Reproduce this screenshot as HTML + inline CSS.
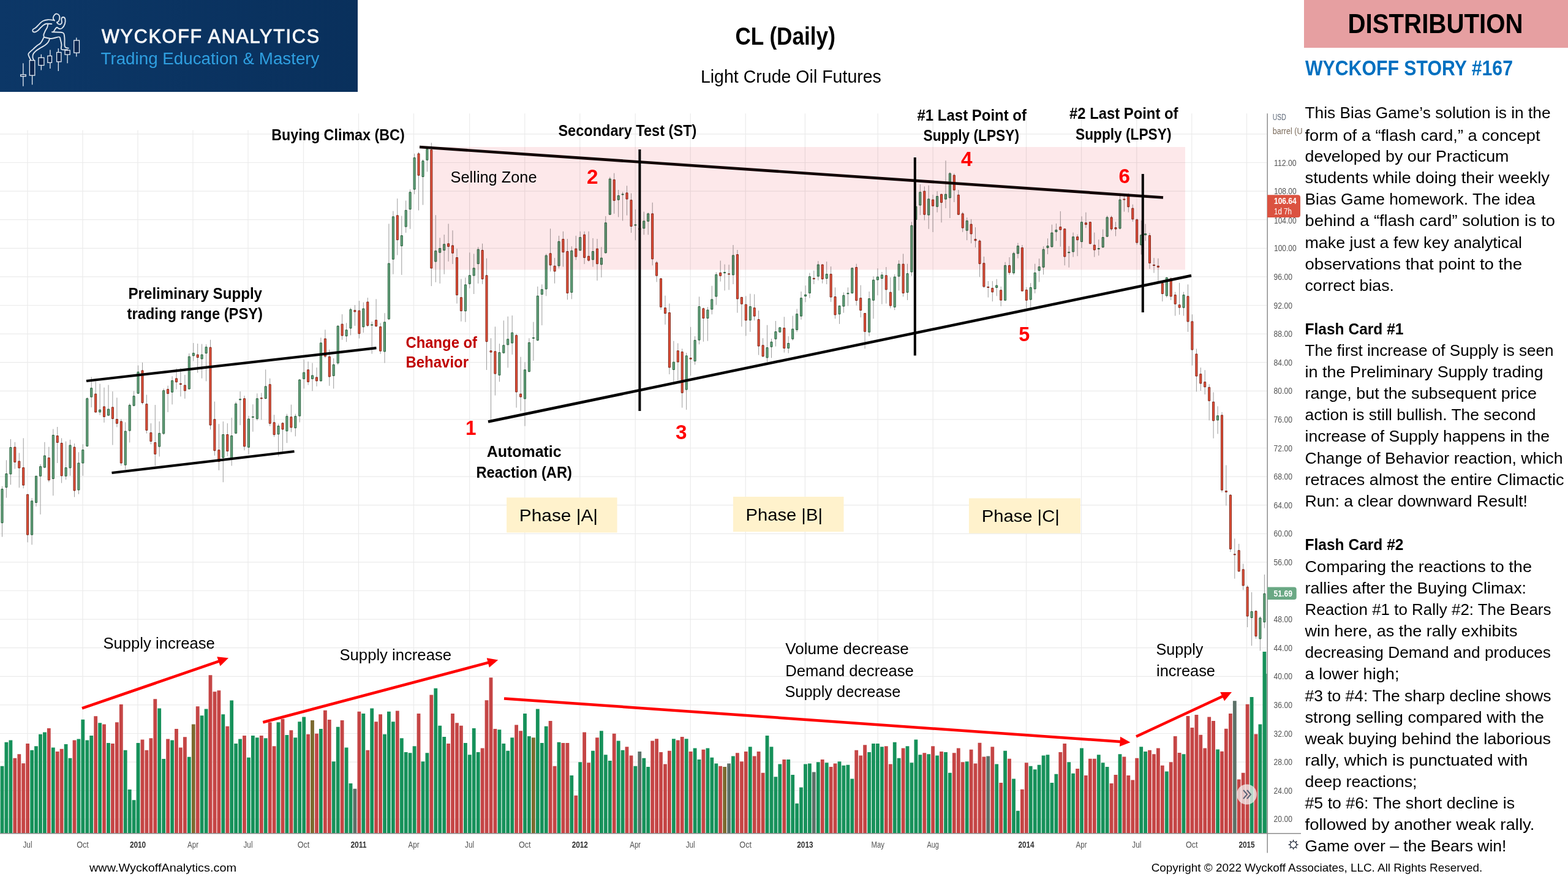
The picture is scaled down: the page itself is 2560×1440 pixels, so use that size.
<!DOCTYPE html>
<html><head><meta charset="utf-8"><title>CL (Daily) - Wyckoff Story #167</title>
<style>html,body{margin:0;padding:0;background:#fff;width:2560px;height:1440px;overflow:hidden}svg{display:block}</style>
</head><body>
<svg width="2560" height="1440" viewBox="0 0 2560 1440">
<rect x="0" y="0" width="2560" height="1440" fill="#fff"/>
<path d="M45 212.5V1360M135 212.5V1360M225 212.5V1360M315 212.5V1360M405 212.5V1360M495.5 212.5V1360M585.5 185.3V1360M675.5 185.3V1360M766.6 185.3V1360M856.8 185.3V1360M946.8 185.3V1360M1037.2 185.3V1360M1127.2 185.3V1360M1217.2 185.3V1360M1314.4 185.3V1360M1433.2 185.3V1360M1523.2 185.3V1360M1675.5 185.3V1360M1765.5 185.3V1360M1855.8 185.3V1360M1945.8 185.3V1360M2035.5 185.3V1360M0 218.9H2068M0 265.5H2068M0 312.1H2068M0 358.7H2068M0 405.3H2068M0 451.9H2068M0 498.5H2068M0 545.1H2068M0 591.7H2068M0 638.3H2068M0 684.9H2068M0 731.5H2068M0 778.1H2068M0 824.7H2068M0 871.3H2068M0 917.9H2068M0 964.5H2068M0 1011.1H2068M0 1057.7H2068M0 1104.3H2068M0 1150.9H2068M0 1197.5H2068M0 1244.1H2068M0 1290.7H2068M0 1337.3H2068" stroke="#ebebeb" stroke-width="1.2" fill="none"/>
<path d="M0.6 1250.8h5.8V1360h-5.8zM7.5 1211.8h5.8V1360h-5.8zM14.5 1208.5h5.8V1360h-5.8zM49.2 1224.8h5.8V1360h-5.8zM56.1 1218.2h5.8V1360h-5.8zM63.1 1198.8h5.8V1360h-5.8zM70 1195.5h5.8V1360h-5.8zM83.9 1220.5h5.8V1360h-5.8zM104.7 1215h5.8V1360h-5.8zM111.6 1237.8h5.8V1360h-5.8zM125.5 1206.5h5.8V1360h-5.8zM132.4 1174.8h5.8V1360h-5.8zM139.4 1208.5h5.8V1360h-5.8zM146.3 1201h5.8V1360h-5.8zM160.2 1180.2h5.8V1360h-5.8zM174.1 1213h5.8V1360h-5.8zM201.8 1224.8h5.8V1360h-5.8zM208.8 1289h5.8V1360h-5.8zM215.7 1306.2h5.8V1360h-5.8zM222.6 1213h5.8V1360h-5.8zM257.3 1156.5h5.8V1360h-5.8zM264.3 1239h5.8V1360h-5.8zM278.2 1208.5h5.8V1360h-5.8zM305.9 1235.8h5.8V1360h-5.8zM326.7 1168.2h5.8V1360h-5.8zM333.7 1157.5h5.8V1360h-5.8zM361.4 1166.2h5.8V1360h-5.8zM375.3 1143.5h5.8V1360h-5.8zM382.2 1214h5.8V1360h-5.8zM389.2 1206.5h5.8V1360h-5.8zM403.1 1236.8h5.8V1360h-5.8zM410 1201h5.8V1360h-5.8zM416.9 1204.2h5.8V1360h-5.8zM430.8 1205.2h5.8V1360h-5.8zM451.6 1179.2h5.8V1360h-5.8zM465.5 1200h5.8V1360h-5.8zM479.4 1204.2h5.8V1360h-5.8zM486.3 1178.2h5.8V1360h-5.8zM493.3 1170.5h5.8V1360h-5.8zM521 1190h5.8V1360h-5.8zM541.8 1243.2h5.8V1360h-5.8zM548.8 1186.8h5.8V1360h-5.8zM562.7 1220.5h5.8V1360h-5.8zM569.6 1279h5.8V1360h-5.8zM590.4 1165h5.8V1360h-5.8zM604.3 1156.5h5.8V1360h-5.8zM625.1 1198.8h5.8V1360h-5.8zM632 1161.8h5.8V1360h-5.8zM639 1178.2h5.8V1360h-5.8zM652.9 1205.2h5.8V1360h-5.8zM659.8 1228h5.8V1360h-5.8zM666.7 1229.2h5.8V1360h-5.8zM673.7 1218.2h5.8V1360h-5.8zM687.6 1243.2h5.8V1360h-5.8zM694.5 1229.2h5.8V1360h-5.8zM708.4 1123.8h5.8V1360h-5.8zM715.3 1184.8h5.8V1360h-5.8zM722.3 1203h5.8V1360h-5.8zM757 1213h5.8V1360h-5.8zM763.9 1232.2h5.8V1360h-5.8zM770.8 1189h5.8V1360h-5.8zM777.8 1228h5.8V1360h-5.8zM812.5 1191.2h5.8V1360h-5.8zM819.4 1214h5.8V1360h-5.8zM826.3 1225.8h5.8V1360h-5.8zM833.3 1204.2h5.8V1360h-5.8zM854.1 1165h5.8V1360h-5.8zM861 1202h5.8V1360h-5.8zM874.9 1157.5h5.8V1360h-5.8zM881.9 1213h5.8V1360h-5.8zM888.8 1185.8h5.8V1360h-5.8zM909.6 1211.8h5.8V1360h-5.8zM930.4 1266h5.8V1360h-5.8zM944.3 1244.2h5.8V1360h-5.8zM965.1 1225.8h5.8V1360h-5.8zM979 1193.2h5.8V1360h-5.8zM985.9 1232.2h5.8V1360h-5.8zM992.9 1242h5.8V1360h-5.8zM1006.8 1209.5h5.8V1360h-5.8zM1013.7 1224.8h5.8V1360h-5.8zM1034.5 1250.8h5.8V1360h-5.8zM1048.4 1237.8h5.8V1360h-5.8zM1055.3 1252h5.8V1360h-5.8zM1097 1206.2h5.8V1360h-5.8zM1117.8 1206.2h5.8V1360h-5.8zM1131.7 1221.5h5.8V1360h-5.8zM1138.6 1240h5.8V1360h-5.8zM1152.5 1221.5h5.8V1360h-5.8zM1159.4 1236.8h5.8V1360h-5.8zM1166.4 1246.5h5.8V1360h-5.8zM1194.1 1234.5h5.8V1360h-5.8zM1221.9 1219.2h5.8V1360h-5.8zM1249.6 1201h5.8V1360h-5.8zM1256.6 1219.2h5.8V1360h-5.8zM1263.5 1268.2h5.8V1360h-5.8zM1270.4 1247.5h5.8V1360h-5.8zM1284.3 1240h5.8V1360h-5.8zM1291.3 1265h5.8V1360h-5.8zM1298.2 1311.8h5.8V1360h-5.8zM1305.1 1285.5h5.8V1360h-5.8zM1312.1 1247.5h5.8V1360h-5.8zM1319 1246.5h5.8V1360h-5.8zM1332.9 1244.2h5.8V1360h-5.8zM1346.8 1245.2h5.8V1360h-5.8zM1367.6 1243.2h5.8V1360h-5.8zM1374.5 1249.8h5.8V1360h-5.8zM1381.5 1248.8h5.8V1360h-5.8zM1388.4 1271.5h5.8V1360h-5.8zM1416.2 1228h5.8V1360h-5.8zM1423.1 1214h5.8V1360h-5.8zM1430 1214h5.8V1360h-5.8zM1437 1219.2h5.8V1360h-5.8zM1457.8 1211.8h5.8V1360h-5.8zM1464.7 1237.8h5.8V1360h-5.8zM1478.6 1218.2h5.8V1360h-5.8zM1485.5 1245.2h5.8V1360h-5.8zM1492.5 1207.5h5.8V1360h-5.8zM1499.4 1232.2h5.8V1360h-5.8zM1513.3 1231.2h5.8V1360h-5.8zM1527.2 1233.5h5.8V1360h-5.8zM1541.1 1228h5.8V1360h-5.8zM1548 1261.8h5.8V1360h-5.8zM1575.8 1243.2h5.8V1360h-5.8zM1624.3 1247.5h5.8V1360h-5.8zM1638.2 1225.8h5.8V1360h-5.8zM1652.1 1271.5h5.8V1360h-5.8zM1659 1323.8h5.8V1360h-5.8zM1679.8 1250.8h5.8V1360h-5.8zM1686.8 1256.2h5.8V1360h-5.8zM1693.7 1248.8h5.8V1360h-5.8zM1700.7 1233.5h5.8V1360h-5.8zM1707.6 1232.2h5.8V1360h-5.8zM1714.5 1278h5.8V1360h-5.8zM1721.5 1263.8h5.8V1360h-5.8zM1742.3 1244.2h5.8V1360h-5.8zM1749.2 1262.8h5.8V1360h-5.8zM1763.1 1221.5h5.8V1360h-5.8zM1790.9 1232.2h5.8V1360h-5.8zM1797.8 1245.2h5.8V1360h-5.8zM1804.7 1252h5.8V1360h-5.8zM1825.6 1231.2h5.8V1360h-5.8zM1860.3 1219.2h5.8V1360h-5.8zM1867.2 1227h5.8V1360h-5.8zM1901.9 1259.5h5.8V1360h-5.8zM1929.6 1231.2h5.8V1360h-5.8zM1985.2 1223.4h5.8V1360h-5.8zM2040.7 1137.9h5.8V1360h-5.8zM2054.5 1182.4h5.8V1360h-5.8zM2061.5 1064h5.8V1360h-5.8z" fill="#16915a"/>
<path d="M21.4 1237.8h5.8V1360h-5.8zM28.4 1231.2h5.8V1360h-5.8zM35.3 1246.2h5.8V1360h-5.8zM42.2 1214h5.8V1360h-5.8zM76.9 1189h5.8V1360h-5.8zM90.8 1227h5.8V1360h-5.8zM97.7 1222.8h5.8V1360h-5.8zM118.6 1208.5h5.8V1360h-5.8zM153.3 1169.2h5.8V1360h-5.8zM167.1 1182.5h5.8V1360h-5.8zM181 1214h5.8V1360h-5.8zM188 1179.2h5.8V1360h-5.8zM194.9 1150h5.8V1360h-5.8zM229.6 1207.5h5.8V1360h-5.8zM236.5 1224.8h5.8V1360h-5.8zM243.5 1205.2h5.8V1360h-5.8zM250.4 1141.2h5.8V1360h-5.8zM271.2 1206.5h5.8V1360h-5.8zM285.1 1190h5.8V1360h-5.8zM292 1220.5h5.8V1360h-5.8zM299 1203.2h5.8V1360h-5.8zM319.8 1153.2h5.8V1360h-5.8zM340.6 1102.2h5.8V1360h-5.8zM347.6 1129.2h5.8V1360h-5.8zM354.5 1127.2h5.8V1360h-5.8zM368.4 1185.8h5.8V1360h-5.8zM396.1 1201h5.8V1360h-5.8zM423.9 1201h5.8V1360h-5.8zM437.8 1179.2h5.8V1360h-5.8zM444.7 1218.2h5.8V1360h-5.8zM458.6 1173.8h5.8V1360h-5.8zM472.5 1192.2h5.8V1360h-5.8zM500.2 1198.8h5.8V1360h-5.8zM514.1 1197.8h5.8V1360h-5.8zM528 1159.8h5.8V1360h-5.8zM534.9 1175h5.8V1360h-5.8zM555.7 1176h5.8V1360h-5.8zM583.5 1161.8h5.8V1360h-5.8zM597.4 1224.8h5.8V1360h-5.8zM611.2 1178.2h5.8V1360h-5.8zM618.2 1166.2h5.8V1360h-5.8zM645.9 1160.5h5.8V1360h-5.8zM680.6 1165h5.8V1360h-5.8zM701.4 1134.5h5.8V1360h-5.8zM729.2 1214h5.8V1360h-5.8zM736.1 1165h5.8V1360h-5.8zM743.1 1180.2h5.8V1360h-5.8zM750 1184.8h5.8V1360h-5.8zM784.7 1221.5h5.8V1360h-5.8zM791.6 1143.2h5.8V1360h-5.8zM798.6 1106.2h5.8V1360h-5.8zM805.5 1190h5.8V1360h-5.8zM840.2 1183.5h5.8V1360h-5.8zM847.2 1193.2h5.8V1360h-5.8zM895.7 1177h5.8V1360h-5.8zM902.7 1250.8h5.8V1360h-5.8zM916.5 1213h5.8V1360h-5.8zM923.5 1213h5.8V1360h-5.8zM937.4 1298.8h5.8V1360h-5.8zM951.2 1195.5h5.8V1360h-5.8zM958.2 1245.2h5.8V1360h-5.8zM972.1 1204.2h5.8V1360h-5.8zM999.8 1197.8h5.8V1360h-5.8zM1020.6 1219.2h5.8V1360h-5.8zM1027.6 1233.5h5.8V1360h-5.8zM1062.3 1209.5h5.8V1360h-5.8zM1069.2 1206.2h5.8V1360h-5.8zM1076.1 1228h5.8V1360h-5.8zM1083.1 1247.5h5.8V1360h-5.8zM1090 1225.8h5.8V1360h-5.8zM1103.9 1208.5h5.8V1360h-5.8zM1110.8 1203h5.8V1360h-5.8zM1124.7 1227h5.8V1360h-5.8zM1145.5 1223.8h5.8V1360h-5.8zM1173.3 1250.8h5.8V1360h-5.8zM1201 1229.2h5.8V1360h-5.8zM1208 1243.2h5.8V1360h-5.8zM1214.9 1227h5.8V1360h-5.8zM1228.8 1234.5h5.8V1360h-5.8zM1235.7 1227h5.8V1360h-5.8zM1242.7 1261.8h5.8V1360h-5.8zM1277.4 1240h5.8V1360h-5.8zM1339.8 1240h5.8V1360h-5.8zM1353.7 1252h5.8V1360h-5.8zM1360.6 1246.5h5.8V1360h-5.8zM1395.3 1224.8h5.8V1360h-5.8zM1402.3 1233.5h5.8V1360h-5.8zM1409.2 1216.2h5.8V1360h-5.8zM1443.9 1218.2h5.8V1360h-5.8zM1450.9 1247.5h5.8V1360h-5.8zM1471.7 1221.5h5.8V1360h-5.8zM1506.4 1229.2h5.8V1360h-5.8zM1520.2 1218.2h5.8V1360h-5.8zM1534.1 1227h5.8V1360h-5.8zM1554.9 1229.2h5.8V1360h-5.8zM1561.9 1221.5h5.8V1360h-5.8zM1568.8 1244.2h5.8V1360h-5.8zM1582.7 1223.8h5.8V1360h-5.8zM1589.6 1246.5h5.8V1360h-5.8zM1596.6 1212.8h5.8V1360h-5.8zM1603.5 1235.5h5.8V1360h-5.8zM1617.4 1219.2h5.8V1360h-5.8zM1631.3 1278h5.8V1360h-5.8zM1645.1 1238.8h5.8V1360h-5.8zM1666 1288.8h5.8V1360h-5.8zM1672.9 1245.2h5.8V1360h-5.8zM1728.4 1228h5.8V1360h-5.8zM1735.3 1214h5.8V1360h-5.8zM1756.2 1255h5.8V1360h-5.8zM1770 1266h5.8V1360h-5.8zM1777 1238.8h5.8V1360h-5.8zM1783.9 1238.8h5.8V1360h-5.8zM1811.7 1279h5.8V1360h-5.8zM1818.6 1265h5.8V1360h-5.8zM1832.5 1235.5h5.8V1360h-5.8zM1839.4 1266h5.8V1360h-5.8zM1846.4 1273.5h5.8V1360h-5.8zM1853.3 1237.8h5.8V1360h-5.8zM1874.1 1224.8h5.8V1360h-5.8zM1881.1 1231.2h5.8V1360h-5.8zM1888 1221.5h5.8V1360h-5.8zM1894.9 1249.8h5.8V1360h-5.8zM1908.8 1244.2h5.8V1360h-5.8zM1915.8 1202h5.8V1360h-5.8zM1922.7 1228.9h5.8V1360h-5.8zM1936.6 1169h5.8V1360h-5.8zM1943.5 1187.9h5.8V1360h-5.8zM1950.5 1167h5.8V1360h-5.8zM1957.4 1199.7h5.8V1360h-5.8zM1964.3 1221.5h5.8V1360h-5.8zM1971.3 1170.4h5.8V1360h-5.8zM1978.2 1177h5.8V1360h-5.8zM1992.1 1226.7h5.8V1360h-5.8zM1999 1189.8h5.8V1360h-5.8zM2006 1165h5.8V1360h-5.8zM2019.8 1272.4h5.8V1360h-5.8zM2026.8 1261.7h5.8V1360h-5.8zM2033.7 1149.8h5.8V1360h-5.8zM2047.6 1198.6h5.8V1360h-5.8z" fill="#c54545"/>
<path d="M312.9 1182.5h5.8V1360h-5.8zM507.1 1176h5.8V1360h-5.8zM868 1204.2h5.8V1360h-5.8zM1180.2 1252h5.8V1360h-5.8z" fill="#7b6a2f"/>
<path d="M576.5 1287.8h5.8V1360h-5.8zM1041.4 1227h5.8V1360h-5.8zM1187.2 1246.5h5.8V1360h-5.8zM1325.9 1260.5h5.8V1360h-5.8zM1610.4 1234.5h5.8V1360h-5.8zM2012.9 1144.3h5.8V1360h-5.8z" fill="#5c7168"/>
<rect x="2067.3" y="1100" width="1.2" height="260" fill="#16915a"/>
<path d="M3.5 793.8V876.5M10.4 751.3V812.7M17.4 717V791.4M24.3 721.8V765.5M31.3 739.5V796.2M38.2 715.4V797.3M45.1 806.8V885.4M52.1 813.2V889.4M59 776.8V826.9M66 757.9V839.9M72.9 721.8V764.3M79.8 729.6V787.2M86.8 700.5V809.2M93.7 697V756M100.6 715.4V788.6M107.6 720.6V783.2M114.5 717.8V776.8M121.5 724.1V811.5M128.4 738.3V806.8M135.3 725.3V776.8M142.3 648.6V729.6M149.2 615.5V665.1M156.2 622.6V673.8M163.1 626.6V677.6M170 632.7V689.9M177 628.5V679.3M183.9 639.1V726.5M190.9 649.3V697.4M197.8 684V760.3M204.7 689.4V766.6M211.7 658.7V722.5M218.6 638.4V663.4M225.5 596.6V643.1M232.5 591.9V660.4M239.4 644.5V707.6M246.4 691.1V725.3M253.3 661.1V760.7M260.2 688V745.4M267.2 634.4V710M274.1 629.7V672.9M281.1 614.3V660.4M288 601.3V635.6M294.9 601.3V647.4M301.9 612V650.9M308.8 577V636M315.8 560V589.5M322.7 561V608.6M329.6 561.6V617.8M336.6 562.3V622.4M343.5 554.8V701.4M350.4 655.6V743.8M357.4 692.2V767.8M364.3 688.1V787.3M371.3 691.1V744.9M378.2 681.9V760.5M385.1 656V708.3M392.1 639.1V694.1M399 646V735.3M406 678.9V741.7M412.9 660.2V704.8M419.8 642.3V686.5M426.8 641.4V685.4M433.7 603.3V651.7M440.7 617.8V695.7M447.6 677.3V713.3M454.5 691.8V744.9M461.5 689.5V736.9M468.4 675.7V723.2M475.4 660.6V705.5M482.3 675.7V712.4M489.2 618.9V689.5M496.2 587.3V634.5M503.1 590.3V628.5M510 592.6V638.4M517 600.1V630.8M523.9 551.3V623M530.9 538.3V584.6M537.8 570.8V629.9M544.7 585V634.5M551.7 530.7V595.6M558.6 513.1V554.8M565.6 527.3V558.2M572.5 502.5V547.4M579.4 498V531.9M586.4 491.1V552.5M593.3 493.6V543.3M600.3 486V533.7M607.2 525V577.7M614.1 488.3V533.7M621.1 527.3V577.7M628 511.2V592.6M634.9 365.4V522.7M641.9 344.6V447.7M648.8 324.2V416.5M655.8 352.5V448.8M662.7 327.5V380M669.6 309.2V373.8M676.6 250.8V317.1M683.5 248.3V343.5M690.5 260.2V334.6M697.4 242.5V280.4M704.3 233.1V467.1M711.3 351.2V460.8M718.2 388.3V462.9M725.2 383.1V447.7M732.1 365.4V426.9M739 376.2V431M746 406V495.6M752.9 455.4V524.8M759.9 453.3V525.8M766.8 412.3V470.6M773.7 414.4V480M780.7 403.3V462.9M787.6 397.7V463.8M794.5 421.8V604M801.5 552.2V685.6M808.4 533.3V645.6M815.4 561.1V623.3M822.3 523.3V577.3M829.2 516.7V600.4M836.2 515.1V578.9M843.1 544.9V665.6M850.1 582.7V671.1M857 591.1V695.6M863.9 552.2V607.8M870.9 525.6V588.9M877.8 467.8V556.7M884.8 464.4V531.1M891.7 414.4V483.3M898.6 373.3V443.3M905.6 421.1V462.7M912.5 384.9V438.2M919.4 377.8V435.6M926.4 390V489.3M933.3 402.2V488.4M940.3 384.9V424.4M947.2 377.8V409.3M954.1 377.8V431.1M961.1 377.8V427.1M968 388.9V435.6M975 390V458.2M981.9 403.3V452.9M988.8 352.9V413.8M995.8 288.9V351.1M1002.7 282.7V348.9M1009.7 310V354.4M1016.6 313.3V360.4M1023.5 303.3V351.6M1030.5 315.6V380M1037.4 341.8V392.2M1044.3 368.9V377.8M1051.3 345.6V383.3M1058.2 347.1V383.3M1065.2 330.7V433.3M1072.1 426.2V460.4M1079 453.8V505.6M1086 482.7V530M1092.9 495.6V611.1M1099.9 556.7V623.3M1106.8 560.4V621.1M1113.7 569.3V665.6M1120.7 576V668.9M1127.6 533.8V613.3M1134.6 548.9V595.6M1141.5 484.4V562.2M1148.4 502.2V557.8M1155.4 501.1V556.7M1162.3 466.7V513.3M1169.3 444.4V497.8M1176.2 425.6V459.6M1183.1 431.6V474.4M1190.1 432.2V473.3M1197 400V464M1203.9 408V510.7M1210.9 484.9V533.3M1217.8 483.3V548.4M1224.8 479.6V541.8M1231.7 480.4V523.3M1238.6 507.1V579.6M1245.6 552.2V583.3M1252.5 530.7V591.1M1259.5 552.9V584.4M1266.4 524V565.6M1273.3 533.8V543.3M1280.3 517.3V575.6M1287.2 548.9V576.7M1294.2 515.6V556M1301.1 504.4V542.2M1308 476V521.8M1315 466.2V493.3M1321.9 445.6V486.7M1328.8 441.8V464M1335.8 426.2V457.8M1342.7 431.6V462.7M1349.7 427.1V464M1356.6 435.1V492.9M1363.5 469.3V520.4M1370.5 498.9V528.9M1377.4 477.3V510.7M1384.4 469.3V499.6M1391.3 436.7V479.6M1398.2 430.7V498.9M1405.2 465.6V518.2M1412.1 511.1V569.3M1419.1 476V548.9M1426 451.1V520.4M1432.9 438.2V482.2M1439.9 444V496.7M1446.8 436V495.6M1453.8 452.9V503.3M1460.7 447.8V506.2M1467.6 424.9V474.4M1474.6 414.4V484.4M1481.5 430.7V490M1488.4 362.2V450.7M1495.4 328.9V373.3M1502.3 301.1V351.1M1509.3 304.4V359.6M1516.2 302.7V373.8M1523.1 317.8V378.9M1530.1 312.2V346.7M1537 316.7V363.3M1544 262.2V340M1550.9 281.1V356M1557.8 283.3V330M1564.8 310V351.1M1571.7 346.2V378.9M1578.7 355.1V392.2M1585.6 357.8V397.3M1592.5 371.1V404M1599.5 391.1V452.2M1606.4 418.9V470M1613.3 458.9V485.6M1620.3 458.9V492.2M1627.2 455.6V483.3M1634.2 467.8V500M1641.1 427.8V491.1M1648 420V448.9M1655 411.1V448.9M1661.9 396.7V421.8M1668.9 400V475.6M1675.8 468.9V503.3M1682.7 462.2V502.2M1689.7 430.7V478.9M1696.6 422.2V460.4M1703.6 402.2V448.4M1710.5 389.3V415.1M1717.4 366.7V404M1724.4 364.9V393.3M1731.3 344.9V402.7M1738.2 372.9V433.3M1745.2 401.8V436.7M1752.1 379.6V419.6M1759.1 382.7V418.2M1766 353.3V404.9M1772.9 346.7V372.2M1779.9 361.8V398.9M1786.8 379.6V419.6M1793.8 391.1V417.3M1800.7 374.4V404.9M1807.6 352.2V387.1M1814.6 352.2V376.7M1821.5 362.2V385.6M1828.5 315.6V374.4M1835.4 320V345.6M1842.3 315.6V346.7M1849.3 333.8V361.8M1856.2 356.7V399.6M1863.2 360V415.6M1870.1 365.6V393.3M1877 380.4V438.9M1884 421.1V445.6M1890.9 421.8V460M1897.8 461.8V492.2M1904.8 452.2V485.6M1911.7 452.9V490M1918.7 476.7V515.6M1925.6 461.8V513.8M1932.5 476.7V515.6M1939.5 464.4V541.8M1946.4 513.3V596.7M1953.4 569.4V639.5M1960.3 600.1V638M1967.2 604.2V644M1974.2 627.2V686.4M1981.1 640.4V715.7M1988.1 663.3V708.4M1995 672.9V803.8M2001.9 759.5V825.5M2008.9 806.8V901.1M2015.8 879.3V944.8M2022.7 887.9V933.8M2029.7 920.5V963.3M2036.6 955.5V1024M2043.6 966.8V1054.3M2050.5 996.7V1042.6M2057.4 1006.1V1062.5M2064.4 938V1025.5" stroke="#9a9a9a" stroke-width="1" fill="none"/>
<path d="M2 798.6h3v55h-3zM8.9 773.5h3v22.1h-3zM15.9 730.5h3v43.4h-3zM50.6 817.9h3v55.2h-3zM57.5 777.3h3v43.2h-3zM64.5 761.7h3v15.5h-3zM71.4 744h3v19.1h-3zM85.3 710.5h3v71h-3zM106.1 763.6h3v13.6h-3zM113 727h3v36.8h-3zM126.9 756h3v43.9h-3zM133.8 734.6h3v21.4h-3zM140.8 650.7h3v77.6h-3zM147.7 633.7h3v14.4h-3zM161.6 669.1h3v3.7h-3zM175.5 668h3v10.1h-3zM203.2 704.1h3v55h-3zM210.2 661.6h3v41.5h-3zM217.1 646.7h3v15.5h-3zM224 607.3h3v34.9h-3zM258.7 707.4h3v21.7h-3zM265.7 637.7h3v70.1h-3zM279.6 621.4h3v18.8h-3zM307.3 582.2h3v52.8h-3zM314.3 576.6h3v4.2h-3zM328.1 579.1h3v6.8h-3zM335.1 566.7h3v10h-3zM362.8 709.5h3v37.7h-3zM376.7 711.5h3v37.9h-3zM383.6 659.3h3v48h-3zM390.6 651.7h3v1.1h-3zM404.5 684h3v46.2h-3zM411.4 680.3h3v1h-3zM418.3 650.8h3v32.9h-3zM432.2 630.9h3v19.6h-3zM453 695.5h3v13.4h-3zM466.9 679.7h3v24h-3zM480.8 679.7h3v18.9h-3zM487.7 620.1h3v59h-3zM494.7 608.2h3v10.2h-3zM508.5 613h3v5.4h-3zM522.4 559.9h3v62h-3zM543.2 595.4h3v18h-3zM550.2 532.4h3v60.4h-3zM564.1 538.8h3v9.8h-3zM571 505.3h3v30.6h-3zM591.8 504h3v29.7h-3zM605.7 530h3v1h-3zM626.5 525.9h3v48h-3zM633.4 430.1h3v90.7h-3zM640.4 353.8h3v69.4h-3zM654.3 384.7h3v16.7h-3zM661.2 343.4h3v26.7h-3zM668.1 313.8h3v27.8h-3zM675.1 257.6h3v51.5h-3zM689 262.8h3v25.7h-3zM695.9 243.4h3v17.8h-3zM709.8 409.7h3v17.3h-3zM716.7 405.5h3v6.7h-3zM723.7 398.8h3v9.8h-3zM758.4 464.9h3v42.8h-3zM765.3 449.7h3v13.6h-3zM772.2 437.8h3v12.1h-3zM779.2 407.2h3v23.4h-3zM813.9 575.6h3v36.8h-3zM820.8 563.8h3v12.3h-3zM827.7 553.8h3v9h-3zM834.7 543.2h3v16.8h-3zM855.5 603.8h3v47.2h-3zM862.4 559.4h3v47.2h-3zM869.4 551.3h3v1h-3zM876.3 483.2h3v72.3h-3zM883.3 472.7h3v7.9h-3zM890.2 417.2h3v54.6h-3zM911 394.3h3v39.7h-3zM931.8 409.4h3v67.9h-3zM945.7 387.6h3v21.2h-3zM966.5 410.5h3v13.4h-3zM980.4 421.2h3v10.6h-3zM987.3 363.8h3v49h-3zM994.3 292.1h3v58.1h-3zM1008.2 319.4h3v6.8h-3zM1015.1 316.9h3v1h-3zM1035.9 366.9h3v1h-3zM1049.8 360.9h3v11.9h-3zM1056.7 348.9h3v12.3h-3zM1098.4 591.2h3v12.3h-3zM1119.2 580.9h3v55.2h-3zM1133.1 555.6h3v33.9h-3zM1140 500.5h3v54.6h-3zM1153.9 506.1h3v13.4h-3zM1160.8 488.9h3v16.1h-3zM1167.8 448.3h3v35.7h-3zM1181.6 444.5h3v1.2h-3zM1195.5 416.9h3v31.9h-3zM1223.3 500.5h3v22.3h-3zM1251 567.6h3v16.3h-3zM1258 558.3h3v7.9h-3zM1264.9 541.6h3v11.7h-3zM1271.8 534.9h3v7.2h-3zM1285.7 560.5h3v7.9h-3zM1292.7 537.2h3v16.1h-3zM1299.6 512.7h3v25.7h-3zM1306.5 486.7h3v29.4h-3zM1313.5 481.2h3v2.3h-3zM1320.4 451.6h3v26.8h-3zM1334.3 432.1h3v19h-3zM1348.2 447.6h3v7h-3zM1369 499.4h3v13.4h-3zM1375.9 482.3h3v17.7h-3zM1382.9 478.7h3v1h-3zM1389.8 437.8h3v40.6h-3zM1417.6 487.6h3v54.6h-3zM1424.5 457.2h3v33h-3zM1431.4 452.1h3v4.8h-3zM1438.4 448.9h3v5.7h-3zM1459.2 452.1h3v49.2h-3zM1466.1 431.2h3v19.9h-3zM1480 446.7h3v30.6h-3zM1486.9 368.3h3v75.7h-3zM1493.9 337.2h3v21.2h-3zM1500.8 313.8h3v21.2h-3zM1514.7 324.9h3v26.1h-3zM1528.6 320.5h3v16.8h-3zM1542.5 317.2h3v7.9h-3zM1549.4 283.2h3v39.7h-3zM1577.2 360.5h3v15.7h-3zM1625.7 466.1h3v3.4h-3zM1639.6 433.4h3v56.8h-3zM1653.5 413.8h3v31.9h-3zM1660.4 401.6h3v12.3h-3zM1681.2 469.4h3v19.7h-3zM1688.2 445.4h3v26.3h-3zM1695.1 435.6h3v6.1h-3zM1702.1 407.2h3v29h-3zM1709 401.6h3v2.8h-3zM1715.9 380.1h3v22.8h-3zM1722.9 375.6h3v2.8h-3zM1743.7 411.7h3v1h-3zM1750.6 386.7h3v24.3h-3zM1764.5 362.7h3v31.9h-3zM1792.3 405.6h3v1h-3zM1799.2 387.6h3v15.9h-3zM1806.1 354.9h3v31.2h-3zM1827 326.1h3v46.8h-3zM1861.7 383.8h3v16.1h-3zM1868.6 381.6h3v1.9h-3zM1903.3 453.4h3v29.4h-3zM1931 481.6h3v20.6h-3zM1986.6 678.8h3v7.1h-3zM2042.1 998.4h3v10.1h-3zM2055.9 1008.9h3v34h-3zM2062.9 969.2h3v46.4h-3z" fill="#6aa884" stroke="#235c36" stroke-width="1"/>
<path d="M22.8 730.1h3v24.3h-3zM29.8 753h3v11h-3zM36.7 763.6h3v28.5h-3zM43.6 807.3h3v65.8h-3zM78.3 747.5h3v36.3h-3zM92.2 711.6h3v10.8h-3zM99.1 723.5h3v53.3h-3zM120 730.1h3v70.8h-3zM154.7 643.2h3v29.7h-3zM168.5 663.9h3v16.5h-3zM182.4 664.9h3v18.6h-3zM189.4 684.5h3v6.8h-3zM196.3 688h3v68h-3zM231 604.9h3v52.6h-3zM237.9 659.7h3v42.7h-3zM244.9 706.4h3v14.1h-3zM251.8 722.5h3v18.8h-3zM272.6 635.6h3v7h-3zM286.5 617.9h3v5.8h-3zM293.4 626.2h3v1.4h-3zM300.4 629h3v8.9h-3zM321.2 579.1h3v4.5h-3zM342 567.2h3v126.8h-3zM348.9 684.7h3v51h-3zM355.9 734.7h3v18.9h-3zM369.8 709.5h3v27h-3zM397.5 650.8h3v78h-3zM425.3 649.8h3v1h-3zM439.2 627.7h3v63.6h-3zM446.1 689.8h3v19.8h-3zM460 690.9h3v10h-3zM473.9 680.8h3v17.1h-3zM501.6 603.8h3v19.6h-3zM515.5 616h3v5.9h-3zM529.4 553h3v28.8h-3zM536.3 582.3h3v32.7h-3zM557.1 529.2h3v18.7h-3zM577.9 506.7h3v2.2h-3zM584.9 507.2h3v37.5h-3zM598.8 493h3v38.4h-3zM612.6 522.7h3v9.8h-3zM619.6 533.5h3v39.6h-3zM647.3 351.8h3v39.8h-3zM682 250.9h3v35.3h-3zM702.8 244.7h3v193.2h-3zM730.6 397.8h3v4.6h-3zM737.5 400.9h3v12.3h-3zM744.5 420.5h3v61.1h-3zM751.4 485.7h3v21.9h-3zM786.1 408.6h3v46.9h-3zM793 449.8h3v107.9h-3zM800 572.7h3v2.3h-3zM806.9 573.8h3v36.3h-3zM841.6 547.6h3v92.3h-3zM848.6 643.2h3v4.8h-3zM897.1 413.8h3v19h-3zM904.1 434.3h3v8.6h-3zM917.9 390.5h3v21.2h-3zM924.9 410.5h3v67.9h-3zM938.8 406.1h3v13h-3zM952.6 383.2h3v37.4h-3zM959.6 418.3h3v6.8h-3zM973.5 406.1h3v24.6h-3zM1001.2 293.4h3v33.9h-3zM1022 314.9h3v10.1h-3zM1029 326.7h3v42.8h-3zM1042.8 372.7h3v2.3h-3zM1063.7 348.9h3v73.9h-3zM1070.6 428.9h3v21.2h-3zM1077.5 454.9h3v46.3h-3zM1084.5 502.7h3v9h-3zM1091.4 510.5h3v89.4h-3zM1105.3 572.7h3v18.3h-3zM1112.2 574.5h3v66.8h-3zM1126.1 584.5h3v1.7h-3zM1146.9 503.8h3v15.7h-3zM1174.7 445.4h3v4.8h-3zM1188.6 446.9h3v1h-3zM1202.4 415.6h3v72.3h-3zM1209.4 485.4h3v10.8h-3zM1216.3 497.2h3v25.7h-3zM1230.2 502.7h3v13.4h-3zM1237.1 521.6h3v43.4h-3zM1244.1 563.8h3v17.9h-3zM1278.8 535.6h3v32.8h-3zM1327.3 454.3h3v1.2h-3zM1341.2 432.1h3v23.4h-3zM1355.1 447.6h3v37.4h-3zM1362 484.5h3v29.4h-3zM1396.7 436.5h3v54.1h-3zM1403.7 486.7h3v19.9h-3zM1410.6 511.6h3v29.7h-3zM1445.3 449.8h3v23h-3zM1452.3 477.2h3v21.9h-3zM1473.1 431.2h3v47.2h-3zM1507.8 312.1h3v38.1h-3zM1521.6 326.1h3v10.1h-3zM1535.5 317.2h3v13.4h-3zM1556.3 286.1h3v24.1h-3zM1563.3 318.3h3v31.9h-3zM1570.2 348.9h3v23.2h-3zM1584.1 366.1h3v15.7h-3zM1591 390.5h3v2.3h-3zM1598 393.4h3v37.2h-3zM1604.9 429.8h3v38.1h-3zM1611.8 468.4h3v1h-3zM1618.8 470.5h3v6.3h-3zM1632.7 473.8h3v16.3h-3zM1646.5 433.4h3v11.7h-3zM1667.4 404.5h3v70.6h-3zM1674.3 473.4h3v16.8h-3zM1729.8 370.5h3v4.6h-3zM1736.8 373.8h3v45.2h-3zM1757.6 386.7h3v5h-3zM1771.4 363.8h3v2.8h-3zM1778.4 362.7h3v35h-3zM1785.3 400.1h3v7.9h-3zM1813.1 354.9h3v19h-3zM1820 371.6h3v2.3h-3zM1833.9 325.1h3v1h-3zM1840.8 320.5h3v17.2h-3zM1847.8 340.1h3v17.7h-3zM1854.7 358.7h3v37.4h-3zM1875.5 384.5h3v45h-3zM1882.5 432.5h3v1h-3zM1889.4 434.3h3v1.9h-3zM1896.3 462.7h3v16.8h-3zM1910.2 454.9h3v29h-3zM1917.2 481.6h3v14.6h-3zM1924.1 497.8h3v4.3h-3zM1938 483.8h3v41.2h-3zM1944.9 524.9h3v46.1h-3zM1951.9 578h3v36h-3zM1958.8 610.7h3v15.3h-3zM1965.7 623.7h3v8h-3zM1972.7 632.4h3v21.9h-3zM1979.6 656.2h3v30.6h-3zM1993.5 677.9h3v122.2h-3zM2000.4 801.6h3v1.7h-3zM2007.4 808.3h3v88h-3zM2014.3 904.8h3v1h-3zM2021.2 898.7h3v34h-3zM2028.2 929.8h3v26.2h-3zM2035.1 958.4h3v47.6h-3zM2049 997.8h3v40.8h-3z" fill="#e8553e" stroke="#7c2214" stroke-width="1"/>
<rect x="706" y="240" width="1229" height="200.4" fill="#fde8ea" style="mix-blend-mode:multiply"/>
<line x1="685" y1="240" x2="1899" y2="322.5" stroke="#120404" stroke-width="4.7" stroke-linecap="butt"/>
<line x1="797" y1="688.5" x2="1945" y2="450" stroke="#000" stroke-width="4.5" stroke-linecap="butt"/>
<line x1="141" y1="622" x2="614.5" y2="568.2" stroke="#000" stroke-width="4.2" stroke-linecap="butt"/>
<line x1="182.5" y1="772" x2="480.5" y2="737" stroke="#000" stroke-width="4.2" stroke-linecap="butt"/>
<line x1="1044.4" y1="244" x2="1044.4" y2="671" stroke="#000" stroke-width="4" stroke-linecap="butt"/>
<line x1="1493.8" y1="257" x2="1493.8" y2="580.5" stroke="#000" stroke-width="4" stroke-linecap="butt"/>
<line x1="1865.8" y1="284" x2="1865.8" y2="510" stroke="#000" stroke-width="4" stroke-linecap="butt"/>
<line x1="134" y1="1156.4" x2="358.8" y2="1079.2" stroke="#ff0000" stroke-width="4.5"/>
<path d="M373 1074.3L359.5 1087.4L354.3 1072.3z" fill="#ff0000"/>
<line x1="429.3" y1="1179.2" x2="798.7" y2="1081.4" stroke="#ff0000" stroke-width="4.5"/>
<path d="M813.2 1077.6L798.8 1089.7L794.7 1074.2z" fill="#ff0000"/>
<line x1="823" y1="1140.4" x2="1830.5" y2="1211" stroke="#ff0000" stroke-width="4.5"/>
<path d="M1845.5 1212L1828 1218.8L1829.1 1202.8z" fill="#ff0000"/>
<line x1="1855" y1="1202.5" x2="1997.4" y2="1136.3" stroke="#ff0000" stroke-width="4.5"/>
<path d="M2011 1130L1999 1144.4L1992.2 1129.9z" fill="#ff0000"/>
<g font-family="'Liberation Sans', Arial, sans-serif">
<rect x="827.1" y="812.3" width="180.5" height="57.2" fill="#fff2cc"/>
<text x="847.8" y="851" font-size="28" fill="#000" textLength="128.3" lengthAdjust="spacingAndGlyphs">Phase |A|</text>
<rect x="1197" y="811" width="180.5" height="57.2" fill="#fff2cc"/>
<text x="1217.5" y="850" font-size="28" fill="#000" textLength="125.5" lengthAdjust="spacingAndGlyphs">Phase |B|</text>
<rect x="1581.9" y="813.5" width="182.1" height="57.2" fill="#fff2cc"/>
<text x="1602.7" y="852.2" font-size="28" fill="#000" textLength="127.2" lengthAdjust="spacingAndGlyphs">Phase |C|</text>
<text x="443.2" y="228.9" font-size="26.6" font-weight="bold" fill="#000" textLength="217.5" lengthAdjust="spacingAndGlyphs">Buying Climax (BC)</text>
<text x="911.4" y="222.3" font-size="26.6" font-weight="bold" fill="#000" textLength="226" lengthAdjust="spacingAndGlyphs">Secondary Test (ST)</text>
<text x="1497.5" y="197" font-size="26.6" font-weight="bold" fill="#000" textLength="178.5" lengthAdjust="spacingAndGlyphs">#1 Last Point of</text>
<text x="1507.5" y="230" font-size="26.6" font-weight="bold" fill="#000" textLength="156.5" lengthAdjust="spacingAndGlyphs">Supply (LPSY)</text>
<text x="1746" y="193.8" font-size="26.6" font-weight="bold" fill="#000" textLength="177.5" lengthAdjust="spacingAndGlyphs">#2 Last Point of</text>
<text x="1756" y="227.5" font-size="26.6" font-weight="bold" fill="#000" textLength="156.5" lengthAdjust="spacingAndGlyphs">Supply (LPSY)</text>
<text x="209.5" y="487.5" font-size="26.6" font-weight="bold" fill="#000" textLength="218.5" lengthAdjust="spacingAndGlyphs">Preliminary Supply</text>
<text x="207.5" y="521" font-size="26.6" font-weight="bold" fill="#000" textLength="221.5" lengthAdjust="spacingAndGlyphs">trading range (PSY)</text>
<text x="662.5" y="567.5" font-size="26.6" font-weight="bold" fill="#c00000" textLength="116.5" lengthAdjust="spacingAndGlyphs">Change of</text>
<text x="662.5" y="600" font-size="26.6" font-weight="bold" fill="#c00000" textLength="102.5" lengthAdjust="spacingAndGlyphs">Behavior</text>
<text x="794.7" y="745.7" font-size="26.6" font-weight="bold" fill="#000" textLength="122" lengthAdjust="spacingAndGlyphs">Automatic</text>
<text x="777.4" y="780" font-size="26.6" font-weight="bold" fill="#000" textLength="156.5" lengthAdjust="spacingAndGlyphs">Reaction (AR)</text>
<text x="735.6" y="298" font-size="26.5" fill="#000" textLength="141" lengthAdjust="spacingAndGlyphs">Selling Zone</text>
<text x="958" y="299.5" font-size="32.5" font-weight="bold" fill="#ff0000" textLength="18.5" lengthAdjust="spacingAndGlyphs">2</text>
<text x="1569" y="271" font-size="32.5" font-weight="bold" fill="#ff0000" textLength="18.5" lengthAdjust="spacingAndGlyphs">4</text>
<text x="1826.5" y="298.8" font-size="32.5" font-weight="bold" fill="#ff0000" textLength="18.5" lengthAdjust="spacingAndGlyphs">6</text>
<text x="760" y="709.6" font-size="32.5" font-weight="bold" fill="#ff0000" textLength="17.5" lengthAdjust="spacingAndGlyphs">1</text>
<text x="1103" y="717.4" font-size="32.5" font-weight="bold" fill="#ff0000" textLength="18.5" lengthAdjust="spacingAndGlyphs">3</text>
<text x="1663.2" y="556.7" font-size="32.5" font-weight="bold" fill="#ff0000" textLength="18" lengthAdjust="spacingAndGlyphs">5</text>
<text x="168.4" y="1059.4" font-size="26.5" fill="#000" textLength="182.5" lengthAdjust="spacingAndGlyphs">Supply increase</text>
<text x="554.5" y="1077.6" font-size="26.5" fill="#000" textLength="182.5" lengthAdjust="spacingAndGlyphs">Supply increase</text>
<text x="1282.3" y="1068" font-size="26.5" fill="#000" textLength="201.5" lengthAdjust="spacingAndGlyphs">Volume decrease</text>
<text x="1282.3" y="1103.6" font-size="26.5" fill="#000" textLength="209.5" lengthAdjust="spacingAndGlyphs">Demand decrease</text>
<text x="1281.4" y="1138.4" font-size="26.5" fill="#000" textLength="189" lengthAdjust="spacingAndGlyphs">Supply decrease</text>
<text x="1887.4" y="1068.6" font-size="26.5" fill="#000" textLength="77" lengthAdjust="spacingAndGlyphs">Supply</text>
<text x="1888" y="1104.2" font-size="26.5" fill="#000" textLength="96" lengthAdjust="spacingAndGlyphs">increase</text>
<line x1="2069.2" y1="185.3" x2="2069.2" y2="1392.5" stroke="#8c8c8c" stroke-width="1.5"/>
<line x1="0" y1="1360.8" x2="2124" y2="1360.8" stroke="#8c8c8c" stroke-width="1.6"/>
<text x="2080" y="270.5" font-size="14.5" fill="#555" textLength="36.7" lengthAdjust="spacingAndGlyphs">112.00</text>
<text x="2080" y="410.3" font-size="14.5" fill="#555" textLength="36.7" lengthAdjust="spacingAndGlyphs">100.00</text>
<text x="2079.6" y="456.9" font-size="14.5" fill="#555" textLength="30.4" lengthAdjust="spacingAndGlyphs">96.00</text>
<text x="2079.6" y="503.5" font-size="14.5" fill="#555" textLength="30.4" lengthAdjust="spacingAndGlyphs">92.00</text>
<text x="2079.6" y="550.1" font-size="14.5" fill="#555" textLength="30.4" lengthAdjust="spacingAndGlyphs">88.00</text>
<text x="2079.6" y="596.7" font-size="14.5" fill="#555" textLength="30.4" lengthAdjust="spacingAndGlyphs">84.00</text>
<text x="2079.6" y="643.3" font-size="14.5" fill="#555" textLength="30.4" lengthAdjust="spacingAndGlyphs">80.00</text>
<text x="2079.6" y="689.9" font-size="14.5" fill="#555" textLength="30.4" lengthAdjust="spacingAndGlyphs">76.00</text>
<text x="2079.6" y="736.5" font-size="14.5" fill="#555" textLength="30.4" lengthAdjust="spacingAndGlyphs">72.00</text>
<text x="2079.6" y="783.1" font-size="14.5" fill="#555" textLength="30.4" lengthAdjust="spacingAndGlyphs">68.00</text>
<text x="2079.6" y="829.7" font-size="14.5" fill="#555" textLength="30.4" lengthAdjust="spacingAndGlyphs">64.00</text>
<text x="2079.6" y="876.3" font-size="14.5" fill="#555" textLength="30.4" lengthAdjust="spacingAndGlyphs">60.00</text>
<text x="2079.6" y="922.9" font-size="14.5" fill="#555" textLength="30.4" lengthAdjust="spacingAndGlyphs">56.00</text>
<text x="2079.6" y="1016.1" font-size="14.5" fill="#555" textLength="30.4" lengthAdjust="spacingAndGlyphs">48.00</text>
<text x="2079.6" y="1062.7" font-size="14.5" fill="#555" textLength="30.4" lengthAdjust="spacingAndGlyphs">44.00</text>
<text x="2079.6" y="1109.3" font-size="14.5" fill="#555" textLength="30.4" lengthAdjust="spacingAndGlyphs">40.00</text>
<text x="2079.6" y="1155.9" font-size="14.5" fill="#555" textLength="30.4" lengthAdjust="spacingAndGlyphs">36.00</text>
<text x="2079.6" y="1202.5" font-size="14.5" fill="#555" textLength="30.4" lengthAdjust="spacingAndGlyphs">32.00</text>
<text x="2079.6" y="1249.1" font-size="14.5" fill="#555" textLength="30.4" lengthAdjust="spacingAndGlyphs">28.00</text>
<text x="2079.6" y="1295.7" font-size="14.5" fill="#555" textLength="30.4" lengthAdjust="spacingAndGlyphs">24.00</text>
<text x="2079.6" y="1342.3" font-size="14.5" fill="#555" textLength="30.4" lengthAdjust="spacingAndGlyphs">20.00</text>
<text x="2080" y="317" font-size="14.5" fill="#555" textLength="36.7" lengthAdjust="spacingAndGlyphs">108.00</text>
<text x="2080" y="364.5" font-size="14.5" fill="#555" textLength="36.7" lengthAdjust="spacingAndGlyphs">104.00</text>
<text x="2077.8" y="195.7" font-size="14" fill="#5d6878" textLength="22" lengthAdjust="spacingAndGlyphs">USD</text>
<text x="2077.8" y="218.5" font-size="14" fill="#7a6a5a" textLength="66" lengthAdjust="spacingAndGlyphs">barrel (USD</text>
<path d="M2069 318.3H2119a4 4 0 0 1 4 4V351a4 4 0 0 1 -4 4H2069z" fill="#db5240"/>
<text x="2080" y="332.5" font-size="14.5" font-weight="bold" fill="#fff" textLength="36.7" lengthAdjust="spacingAndGlyphs">106.64</text>
<text x="2080" y="350" font-size="14.5" fill="#fff" textLength="29" lengthAdjust="spacingAndGlyphs">1d 7h</text>
<path d="M2069 958.6H2112.7a4 4 0 0 1 4 4V974.9a4 4 0 0 1 -4 4H2069z" fill="#6aa884"/>
<text x="2079.6" y="974" font-size="14.5" font-weight="bold" fill="#fff" textLength="30.4" lengthAdjust="spacingAndGlyphs">51.69</text>
<text x="45" y="1384" font-size="15" fill="#555" textLength="15" lengthAdjust="spacingAndGlyphs" text-anchor="middle">Jul</text>
<text x="135" y="1384" font-size="15" fill="#555" textLength="19.7" lengthAdjust="spacingAndGlyphs" text-anchor="middle">Oct</text>
<text x="225" y="1384" font-size="15" font-weight="bold" fill="#333" textLength="26.2" lengthAdjust="spacingAndGlyphs" text-anchor="middle">2010</text>
<text x="315" y="1384" font-size="15" fill="#555" textLength="18" lengthAdjust="spacingAndGlyphs" text-anchor="middle">Apr</text>
<text x="405" y="1384" font-size="15" fill="#555" textLength="15" lengthAdjust="spacingAndGlyphs" text-anchor="middle">Jul</text>
<text x="495.5" y="1384" font-size="15" fill="#555" textLength="19.7" lengthAdjust="spacingAndGlyphs" text-anchor="middle">Oct</text>
<text x="585.5" y="1384" font-size="15" font-weight="bold" fill="#333" textLength="26.2" lengthAdjust="spacingAndGlyphs" text-anchor="middle">2011</text>
<text x="675.5" y="1384" font-size="15" fill="#555" textLength="18" lengthAdjust="spacingAndGlyphs" text-anchor="middle">Apr</text>
<text x="766.6" y="1384" font-size="15" fill="#555" textLength="15" lengthAdjust="spacingAndGlyphs" text-anchor="middle">Jul</text>
<text x="856.8" y="1384" font-size="15" fill="#555" textLength="19.7" lengthAdjust="spacingAndGlyphs" text-anchor="middle">Oct</text>
<text x="946.8" y="1384" font-size="15" font-weight="bold" fill="#333" textLength="26.2" lengthAdjust="spacingAndGlyphs" text-anchor="middle">2012</text>
<text x="1037.2" y="1384" font-size="15" fill="#555" textLength="18" lengthAdjust="spacingAndGlyphs" text-anchor="middle">Apr</text>
<text x="1127.2" y="1384" font-size="15" fill="#555" textLength="15" lengthAdjust="spacingAndGlyphs" text-anchor="middle">Jul</text>
<text x="1217.2" y="1384" font-size="15" fill="#555" textLength="19.7" lengthAdjust="spacingAndGlyphs" text-anchor="middle">Oct</text>
<text x="1314.4" y="1384" font-size="15" font-weight="bold" fill="#333" textLength="26.2" lengthAdjust="spacingAndGlyphs" text-anchor="middle">2013</text>
<text x="1433.2" y="1384" font-size="15" fill="#555" textLength="21.5" lengthAdjust="spacingAndGlyphs" text-anchor="middle">May</text>
<text x="1523.2" y="1384" font-size="15" fill="#555" textLength="19.5" lengthAdjust="spacingAndGlyphs" text-anchor="middle">Aug</text>
<text x="1675.5" y="1384" font-size="15" font-weight="bold" fill="#333" textLength="26.2" lengthAdjust="spacingAndGlyphs" text-anchor="middle">2014</text>
<text x="1765.5" y="1384" font-size="15" fill="#555" textLength="18" lengthAdjust="spacingAndGlyphs" text-anchor="middle">Apr</text>
<text x="1855.8" y="1384" font-size="15" fill="#555" textLength="15" lengthAdjust="spacingAndGlyphs" text-anchor="middle">Jul</text>
<text x="1945.8" y="1384" font-size="15" fill="#555" textLength="19.7" lengthAdjust="spacingAndGlyphs" text-anchor="middle">Oct</text>
<text x="2035.5" y="1384" font-size="15" font-weight="bold" fill="#333" textLength="26.2" lengthAdjust="spacingAndGlyphs" text-anchor="middle">2015</text>
<circle cx="2111.6" cy="1379.1" r="5.2" fill="none" stroke="#2a3140" stroke-width="1.3"/>
<path d="M2116.8 1379.1L2119.6 1379.1M2115.3 1382.8L2117.3 1384.8M2111.6 1384.3L2111.6 1387.1M2107.9 1382.8L2105.9 1384.8M2106.4 1379.1L2103.6 1379.1M2107.9 1375.4L2105.9 1373.4M2111.6 1373.9L2111.6 1371.1M2115.3 1375.4L2117.3 1373.4" stroke="#2a3140" stroke-width="1.5"/>
<circle cx="2035.5" cy="1297" r="16.5" fill="#f0f0f0" fill-opacity="0.75"/>
<path d="M2030 1290l6 7-6 7M2036 1290l6 7-6 7" fill="none" stroke="#5a6275" stroke-width="2"/>
<rect x="2126" y="150" width="434" height="1250" fill="#fff"/>
<rect x="2129" y="0" width="431" height="78" fill="#e69fa1"/>
<text x="2200.5" y="53.8" font-size="43.6" font-weight="bold" fill="#000" textLength="286" lengthAdjust="spacingAndGlyphs">DISTRIBUTION</text>
<text x="2131" y="122.5" font-size="34.5" font-weight="bold" fill="#0070c0" textLength="339" lengthAdjust="spacingAndGlyphs">WYCKOFF STORY #167</text>
<text x="2130.5" y="193.2" font-size="25.8" fill="#000" textLength="401" lengthAdjust="spacingAndGlyphs">This Bias Game’s solution is in the</text>
<text x="2130.5" y="229.5" font-size="25.8" fill="#000" textLength="384" lengthAdjust="spacingAndGlyphs">form of a “flash card,” a concept</text>
<text x="2130.5" y="264" font-size="25.8" fill="#000" textLength="333" lengthAdjust="spacingAndGlyphs">developed by our Practicum</text>
<text x="2130.5" y="299" font-size="25.8" fill="#000" textLength="399.5" lengthAdjust="spacingAndGlyphs">students while doing their weekly</text>
<text x="2130.5" y="334.2" font-size="25.8" fill="#000" textLength="376" lengthAdjust="spacingAndGlyphs">Bias Game homework. The idea</text>
<text x="2130.5" y="369" font-size="25.8" fill="#000" textLength="408.5" lengthAdjust="spacingAndGlyphs">behind a “flash card” solution is to</text>
<text x="2130.5" y="404.5" font-size="25.8" fill="#000" textLength="354.5" lengthAdjust="spacingAndGlyphs">make just a few key analytical</text>
<text x="2130.5" y="439.5" font-size="25.8" fill="#000" textLength="354.5" lengthAdjust="spacingAndGlyphs">observations that point to the</text>
<text x="2130.5" y="474.5" font-size="25.8" fill="#000" textLength="145.5" lengthAdjust="spacingAndGlyphs">correct bias.</text>
<text x="2130.5" y="545.8" font-size="25.8" font-weight="bold" fill="#000" textLength="161" lengthAdjust="spacingAndGlyphs">Flash Card #1</text>
<text x="2130.5" y="581.2" font-size="25.8" fill="#000" textLength="406" lengthAdjust="spacingAndGlyphs">The first increase of Supply is seen</text>
<text x="2130.5" y="616.2" font-size="25.8" fill="#000" textLength="389" lengthAdjust="spacingAndGlyphs">in the Preliminary Supply trading</text>
<text x="2130.5" y="651.2" font-size="25.8" fill="#000" textLength="378.5" lengthAdjust="spacingAndGlyphs">range, but the subsequent price</text>
<text x="2130.5" y="686.2" font-size="25.8" fill="#000" textLength="377" lengthAdjust="spacingAndGlyphs">action is still bullish. The second</text>
<text x="2130.5" y="721.2" font-size="25.8" fill="#000" textLength="399.5" lengthAdjust="spacingAndGlyphs">increase of Supply happens in the</text>
<text x="2130.5" y="757" font-size="25.8" fill="#000" textLength="421" lengthAdjust="spacingAndGlyphs">Change of Behavior reaction, which</text>
<text x="2130.5" y="792" font-size="25.8" fill="#000" textLength="423" lengthAdjust="spacingAndGlyphs">retraces almost the entire Climactic</text>
<text x="2130.5" y="827" font-size="25.8" fill="#000" textLength="363.5" lengthAdjust="spacingAndGlyphs">Run: a clear downward Result!</text>
<text x="2130.5" y="898" font-size="25.8" font-weight="bold" fill="#000" textLength="161" lengthAdjust="spacingAndGlyphs">Flash Card #2</text>
<text x="2130.5" y="933.8" font-size="25.8" fill="#000" textLength="370.5" lengthAdjust="spacingAndGlyphs">Comparing the reactions to the</text>
<text x="2130.5" y="968.8" font-size="25.8" fill="#000" textLength="361.5" lengthAdjust="spacingAndGlyphs">rallies after the Buying Climax:</text>
<text x="2130.5" y="1003.8" font-size="25.8" fill="#000" textLength="402" lengthAdjust="spacingAndGlyphs">Reaction #1 to Rally #2: The Bears</text>
<text x="2130.5" y="1038.8" font-size="25.8" fill="#000" textLength="347" lengthAdjust="spacingAndGlyphs">win here, as the rally exhibits</text>
<text x="2130.5" y="1073.8" font-size="25.8" fill="#000" textLength="401.5" lengthAdjust="spacingAndGlyphs">decreasing Demand and produces</text>
<text x="2130.5" y="1109" font-size="25.8" fill="#000" textLength="154" lengthAdjust="spacingAndGlyphs">a lower high;</text>
<text x="2130.5" y="1144.5" font-size="25.8" fill="#000" textLength="402" lengthAdjust="spacingAndGlyphs">#3 to #4: The sharp decline shows</text>
<text x="2130.5" y="1179.5" font-size="25.8" fill="#000" textLength="390.5" lengthAdjust="spacingAndGlyphs">strong selling compared with the</text>
<text x="2130.5" y="1214.5" font-size="25.8" fill="#000" textLength="401.5" lengthAdjust="spacingAndGlyphs">weak buying behind the laborious</text>
<text x="2130.5" y="1249.8" font-size="25.8" fill="#000" textLength="364" lengthAdjust="spacingAndGlyphs">rally, which is punctuated with</text>
<text x="2130.5" y="1285" font-size="25.8" fill="#000" textLength="183" lengthAdjust="spacingAndGlyphs">deep reactions;</text>
<text x="2130.5" y="1320" font-size="25.8" fill="#000" textLength="342.5" lengthAdjust="spacingAndGlyphs">#5 to #6: The short decline is</text>
<text x="2130.5" y="1355.3" font-size="25.8" fill="#000" textLength="375" lengthAdjust="spacingAndGlyphs">followed by another weak rally.</text>
<text x="2130.5" y="1389.5" font-size="25.8" fill="#000" textLength="329" lengthAdjust="spacingAndGlyphs">Game over – the Bears win!</text>
<text x="1200.4" y="72.9" font-size="39.8" font-weight="bold" fill="#000" textLength="163.5" lengthAdjust="spacingAndGlyphs">CL (Daily)</text>
<text x="1143.9" y="134.5" font-size="28.9" fill="#000" textLength="295" lengthAdjust="spacingAndGlyphs">Light Crude Oil Futures</text>
<text x="146" y="1422.5" font-size="19" fill="#000" textLength="240" lengthAdjust="spacingAndGlyphs">www.WyckoffAnalytics.com</text>
<text x="1879.7" y="1422.9" font-size="19" fill="#000" textLength="540.5" lengthAdjust="spacingAndGlyphs">Copyright © 2022 Wyckoff Associates, LLC. All Rights Reserved.</text>
</g>
<defs><linearGradient id="lg" x1="0" y1="0" x2="1" y2="0"><stop offset="0" stop-color="#0c3767"/><stop offset="1" stop-color="#09305c"/></linearGradient></defs>
<rect x="0" y="0" width="584" height="150" fill="url(#lg)"/>
<line x1="37.8" y1="103.3" x2="37.8" y2="140.8" stroke="#e8eef5" stroke-width="1.3"/>
<rect x="33.7" y="121.9" width="8.5" height="2.7" fill="#0a2650" stroke="#e8eef5" stroke-width="1.3"/>
<line x1="52.6" y1="98" x2="52.6" y2="138.3" stroke="#e8eef5" stroke-width="1.3"/>
<rect x="48.3" y="98.6" width="8.5" height="24.5" fill="#0a2650" stroke="#e8eef5" stroke-width="1.3"/>
<line x1="67.3" y1="88.7" x2="67.3" y2="114.5" stroke="#e8eef5" stroke-width="1.3"/>
<rect x="62.9" y="94.2" width="9" height="12.4" fill="#0a2650" stroke="#e8eef5" stroke-width="1.3"/>
<line x1="81.9" y1="81.5" x2="81.9" y2="112" stroke="#e8eef5" stroke-width="1.3"/>
<rect x="77.8" y="91.3" width="6.7" height="10.9" fill="#0a2650" stroke="#e8eef5" stroke-width="1.3"/>
<line x1="95.3" y1="79" x2="95.3" y2="116" stroke="#e8eef5" stroke-width="1.3"/>
<rect x="92.6" y="85.5" width="7.3" height="15.3" fill="#0a2650" stroke="#e8eef5" stroke-width="1.3"/>
<line x1="110.1" y1="81.5" x2="110.1" y2="103.3" stroke="#e8eef5" stroke-width="1.3"/>
<rect x="106" y="82.1" width="8.2" height="7" fill="#0a2650" stroke="#e8eef5" stroke-width="1.3"/>
<line x1="124.8" y1="61.5" x2="124.8" y2="92.6" stroke="#e8eef5" stroke-width="1.3"/>
<rect x="120.7" y="66" width="8.8" height="20.2" fill="#0a2650" stroke="#e8eef5" stroke-width="1.3"/>
<g fill="none" stroke="#dde4ec" stroke-width="1.9" stroke-linecap="round" stroke-linejoin="round"><path d="M89.0 33.7C88.6 32.9 86.7 31.0 86.7 29.4C86.7 27.8 87.9 25.4 89.0 24.3C90.0 23.1 91.7 22.4 93.0 22.6C94.3 22.7 96.0 24.1 96.7 25.4C97.4 26.7 97.5 28.9 97.2 30.5C97.0 32.1 96.0 34.1 95.3 35.1C94.5 36.0 93.4 36.0 93.0 36.2"/><path d="M88.4 33.1C86.7 32.9 81.3 32.0 78.2 32.2C75.0 32.5 72.0 33.3 69.6 34.5C67.3 35.7 65.8 37.8 63.9 39.6C62.0 41.4 59.9 44.0 58.2 45.3C56.6 46.7 54.8 46.9 54.0 47.9C53.2 48.8 53.0 50.3 53.4 51.0C53.8 51.8 55.2 52.6 56.5 52.5C57.9 52.3 59.9 51.2 61.7 49.9C63.4 48.6 65.2 46.3 66.8 44.8C68.4 43.2 69.8 41.8 71.3 40.8C72.9 39.8 73.7 39.1 75.9 38.8C78.1 38.5 83.0 39.0 84.4 39.1"/><path d="M78.2 39.9C78.0 40.7 77.8 42.9 77.0 44.8C76.3 46.6 74.6 49.0 73.6 51.0C72.7 53.0 71.6 55.1 71.3 56.7C71.1 58.3 71.8 60.0 71.9 60.7"/><path d="M93.0 36.8C93.4 37.2 94.3 38.6 95.3 39.1C96.2 39.5 97.7 40.0 98.7 39.6C99.6 39.3 100.7 38.3 100.9 36.8C101.2 35.3 100.0 32.0 100.4 30.5C100.8 29.1 102.2 27.9 103.2 28.0C104.2 28.1 105.9 29.2 106.4 31.1C106.8 32.9 106.6 36.6 105.8 39.1C105.0 41.5 103.0 44.6 101.5 45.9C100.0 47.2 98.4 47.2 97.0 47.0C95.5 46.9 94.1 44.7 93.0 44.8C91.8 44.9 91.1 46.4 90.1 47.6C89.2 48.8 87.8 51.4 87.3 52.2"/><path d="M85.0 52.2C87.7 52.3 97.7 52.5 100.9 53.0C104.2 53.6 103.6 53.8 104.4 55.6C105.1 57.3 105.3 60.4 105.5 63.6C105.7 66.7 105.2 72.1 105.5 74.4C105.8 76.7 106.2 76.8 107.2 77.5C108.3 78.2 111.0 78.5 111.8 78.6"/><path d="M71.9 60.7C73.9 61.1 79.8 63.0 83.9 63.0C87.9 62.9 93.9 60.1 96.4 60.4C98.9 60.7 98.0 62.7 98.7 64.7C99.3 66.7 100.1 70.0 100.4 72.7C100.7 75.3 98.8 79.2 100.4 80.6C102.0 82.1 108.4 81.1 110.1 81.2"/><path d="M71.3 61.3C70.9 62.2 69.4 65.4 68.5 67.0C67.5 68.6 67.1 69.6 65.6 71.0C64.2 72.3 61.8 73.4 59.9 74.9C58.0 76.5 56.1 78.4 54.3 80.1C52.4 81.8 49.9 83.8 48.6 85.2C47.2 86.6 46.4 87.2 46.3 88.6C46.2 90.0 47.3 92.1 48.0 93.7C48.7 95.4 49.9 97.5 50.3 98.3"/><path d="M81.0 63.6C80.6 64.4 79.9 67.1 78.7 68.7C77.6 70.3 76.2 71.7 74.2 73.2C72.2 74.8 69.3 76.2 66.8 77.8C64.2 79.4 60.9 81.2 58.8 82.9C56.7 84.6 55.2 86.2 54.3 88.0C53.3 89.8 53.3 92.0 53.4 93.7C53.5 95.4 54.8 97.5 55.1 98.3"/></g>
<text x="166" y="70.4" font-family="'Liberation Sans', Arial, sans-serif" font-size="30.5" fill="#f6f7f9" stroke="#f6f7f9" stroke-width="0.9" textLength="355" lengthAdjust="spacing">WYCKOFF ANALYTICS</text>
<text x="164.5" y="104.6" font-family="'Liberation Sans', Arial, sans-serif" font-size="27" fill="#2f9fe0" textLength="357" lengthAdjust="spacingAndGlyphs">Trading Education &amp; Mastery</text>
</svg>
</body></html>
